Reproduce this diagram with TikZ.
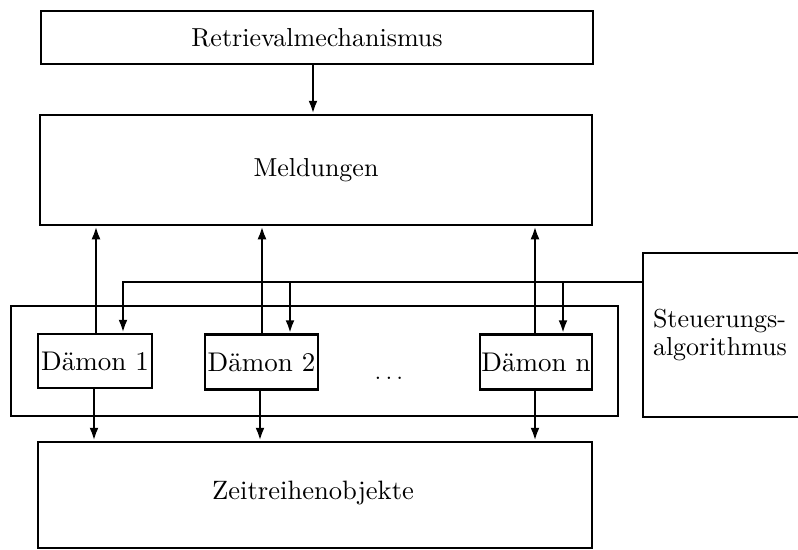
\documentclass[tikz,border=0pt]{standalone}
\usepackage{fontspec}
\setmainfont{lmroman10-regular.otf}[BoldFont=lmroman10-bold.otf]
\usetikzlibrary{arrows.meta}
\begin{document}
\begin{tikzpicture}[x=1pt,y=-1pt,
  txt/.style={font=\fontsize{26}{28}\selectfont},
  box/.style={draw,line width=2.5pt,rectangle,inner sep=0pt,txt},
  arr/.style={line width=2.5pt,-{Latex[length=13pt,width=9pt]}}]
\useasboundingbox (0,0) rectangle (798,549);
% boxes
\node[box,minimum width=552pt,minimum height=53pt] (ret) at (317,37.5) {Retrievalmechanismus};
\node[box,minimum width=552pt,minimum height=110pt] (meld) at (316,170) {Meldungen};
\node[box,minimum width=607pt,minimum height=110pt] (outer) at (314.5,361) {};
\node[box,minimum width=114pt,minimum height=54pt,font=\fontsize{27}{29}\selectfont] (d1) at (95,361) {Dämon 1};
\node[box,minimum width=113pt,minimum height=55pt,font=\fontsize{27}{29}\selectfont] (d2) at (261.5,362) {Dämon 2};
\node[box,minimum width=112pt,minimum height=55pt,font=\fontsize{27}{29}\selectfont] (dn) at (536,362) {Dämon n};
\node[txt] (dots) at (389,378) {$\ldots$};
\node[box,minimum width=554pt,minimum height=106pt] (zeit) at (315,495) {};
\node[font=\fontsize{26.6}{28}\selectfont] (zeittext) at (313,493) {Zeitreihenobjekte};
\node[box,minimum width=220pt,minimum height=164pt,text width=200pt,inner xsep=10pt,align=left] (steu) at (753,335) {Steuerungs-\\algorithmus};
% x positions
\coordinate (xr) at (313,0);
\coordinate (u1) at (96,0);
\coordinate (u2) at (262,0);
\coordinate (un) at (535,0);
\coordinate (c1) at (123,0);
\coordinate (c2) at (290,0);
\coordinate (cn) at (563,0);
\coordinate (b1) at (94,0);
\coordinate (b2) at (260,0);
\coordinate (bn) at (535,0);
\coordinate (cy) at (0,282);
% connectors
\draw[arr] (ret.south -| xr) -- (meld.north -| xr);
\draw[arr] (d1.north -| u1) -- (meld.south -| u1);
\draw[arr] (d2.north -| u2) -- (meld.south -| u2);
\draw[arr] (dn.north -| un) -- (meld.south -| un);
\draw[arr] (steu.west |- cy) -- (c1 |- cy) -- (d1.north -| c1);
\draw[arr] (c2 |- cy) -- (d2.north -| c2);
\draw[arr] (cn |- cy) -- (dn.north -| cn);
\draw[arr] (d1.south -| b1) -- (zeit.north -| b1);
\draw[arr] (d2.south -| b2) -- (zeit.north -| b2);
\draw[arr] (dn.south -| bn) -- (zeit.north -| bn);
\end{tikzpicture}
\end{document}
